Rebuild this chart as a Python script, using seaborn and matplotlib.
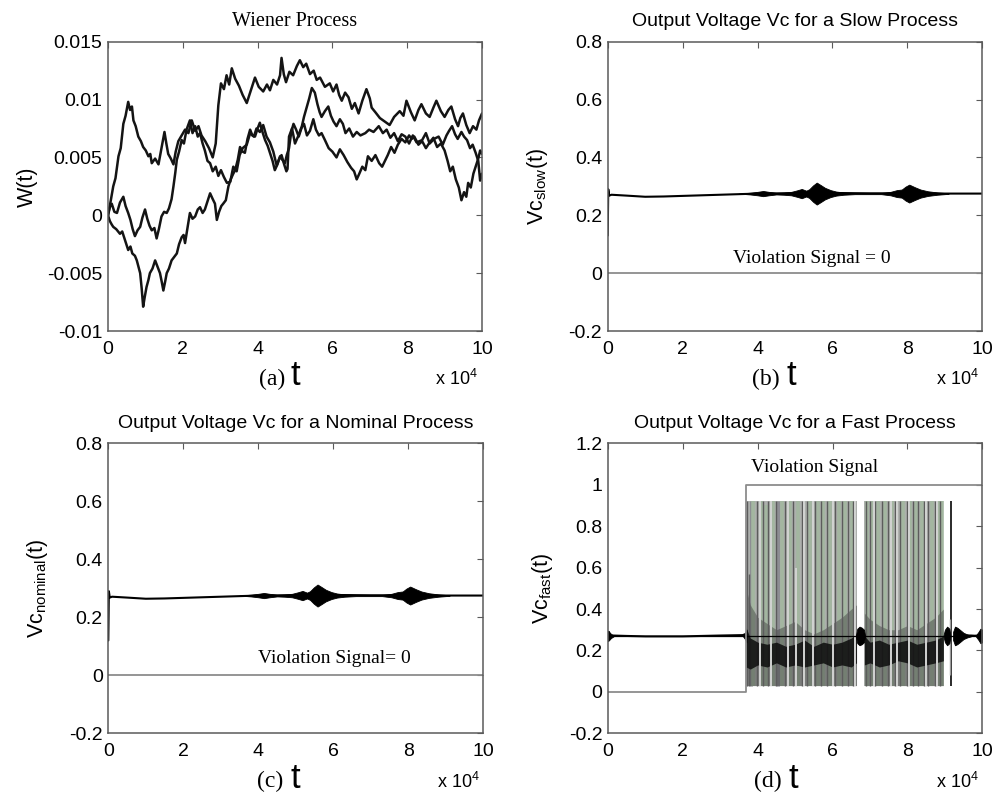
import matplotlib
matplotlib.use("Agg")
import matplotlib.pyplot as plt
import seaborn as sns

# ---------------------------------------------------------------- data
# (a) three sample paths of the Wiener process, t in units of 1e4
wiener1_t = [0, 0.07, 0.14, 0.2, 0.28, 0.34, 0.41, 0.47, 0.54, 0.59, 0.64, 0.68, 0.74, 0.81, 0.88, 0.94,
             1.01, 1.08, 1.13, 1.17, 1.26, 1.35, 1.43, 1.51, 1.56, 1.61, 1.68, 1.75, 1.81, 1.88, 1.97,
             2.06, 2.15, 2.24, 2.33, 2.42, 2.5, 2.6, 2.7, 2.8, 2.88, 2.95, 3.02, 3.1, 3.17, 3.24, 3.31,
             3.4, 3.5, 3.6, 3.71, 3.8, 3.93, 4.03, 4.15, 4.25, 4.33, 4.42, 4.52, 4.6, 4.64, 4.7, 4.76,
             4.85, 4.95, 5.05, 5.13, 5.22, 5.3, 5.4, 5.5, 5.58, 5.67, 5.8, 5.93, 6.02, 6.11, 6.18, 6.25,
             6.34, 6.43, 6.52, 6.6, 6.7, 6.8, 6.91, 7.0, 7.05, 7.15, 7.27, 7.4, 7.53, 7.65, 7.8, 7.9,
             7.98, 8.1, 8.2, 8.3, 8.38, 8.5, 8.6, 8.7, 8.78, 8.9, 9.0, 9.1, 9.18, 9.28, 9.36, 9.42,
             9.49, 9.58, 9.67, 9.76, 9.85, 9.92, 10.0]
wiener1_w = [0.0, 0.0012, 0.0025, 0.0032, 0.0051, 0.0058, 0.0079, 0.0086, 0.0098, 0.0091, 0.0094, 0.0082,
             0.0077, 0.0068, 0.0064, 0.0059, 0.0056, 0.0051, 0.0053, 0.0045, 0.0049, 0.0044, 0.0058,
             0.0072, 0.0062, 0.0053, 0.0049, 0.0044, 0.0055, 0.0064, 0.0069, 0.0074, 0.0071, 0.0082,
             0.0073, 0.0077, 0.0069, 0.0064, 0.0058, 0.005, 0.0062, 0.0095, 0.0114, 0.0109, 0.0121,
             0.0113, 0.0127, 0.0118, 0.0112, 0.0104, 0.0097, 0.0106, 0.0119, 0.0111, 0.0107, 0.0113,
             0.0108, 0.0117, 0.0113, 0.0121, 0.0136, 0.0122, 0.0115, 0.0124, 0.0121, 0.0129, 0.0134,
             0.0128, 0.0131, 0.0122, 0.0125, 0.0117, 0.0119, 0.0111, 0.0114, 0.0107, 0.0113, 0.0104,
             0.0099, 0.0106, 0.0102, 0.0092, 0.0097, 0.0088, 0.0099, 0.0109, 0.0101, 0.0093, 0.0089,
             0.0084, 0.0081, 0.0078, 0.0085, 0.009, 0.0086, 0.0099, 0.0089, 0.0082, 0.0091, 0.0096,
             0.0088, 0.0085, 0.0093, 0.0099, 0.009, 0.0085, 0.0091, 0.0094, 0.0083, 0.0077, 0.0084,
             0.0088, 0.0078, 0.0071, 0.0077, 0.0074, 0.0082, 0.0088]

wiener2_t = [0, 0.05, 0.1, 0.17, 0.24, 0.32, 0.41, 0.47, 0.54, 0.6, 0.66, 0.72, 0.79, 0.86, 0.92, 0.99,
             1.05, 1.11, 1.17, 1.24, 1.3, 1.36, 1.43, 1.5, 1.57, 1.63, 1.7, 1.75, 1.8, 1.84, 1.9, 1.97,
             2.03, 2.1, 2.19, 2.26, 2.33, 2.4, 2.46, 2.53, 2.59, 2.66, 2.73, 2.8, 2.88, 2.95, 3.02, 3.1,
             3.18, 3.27, 3.35, 3.44, 3.52, 3.6, 3.71, 3.8, 3.9, 3.97, 4.06, 4.15, 4.24, 4.33, 4.42,
             4.51, 4.58, 4.64, 4.71, 4.77, 4.8, 4.84, 4.92, 5.0, 5.08, 5.16, 5.24, 5.32, 5.4, 5.49,
             5.56, 5.64, 5.71, 5.8, 5.9, 6.0, 6.11, 6.2, 6.3, 6.4, 6.5, 6.58, 6.65, 6.72, 6.8, 6.88,
             6.95, 7.05, 7.15, 7.25, 7.33, 7.39, 7.48, 7.57, 7.66, 7.75, 7.85, 7.95, 8.05, 8.12, 8.19,
             8.3, 8.4, 8.5, 8.6, 8.7, 8.8, 8.9, 9.0, 9.08, 9.15, 9.22, 9.3, 9.38, 9.45, 9.52, 9.58,
             9.63, 9.7, 9.77, 9.83, 9.9, 9.95, 10.0]
wiener2_w = [0.0, 0.0007, 0.001, 0.0003, 0.0002, 0.0011, 0.0016, 0.0008, 0.0002, -0.0004, -0.0012,
             -0.0018, -0.0013, -0.001, -0.0002, 0.0005, -0.0003, -0.0009, -0.0013, -0.0011, -0.002,
             -0.0012, -0.0001, 0.0003, 0.0002, 0.0006, 0.0014, 0.0025, 0.0037, 0.0048, 0.0055, 0.0065,
             0.0062, 0.0074, 0.0082, 0.0071, 0.0077, 0.0068, 0.0071, 0.0062, 0.0056, 0.0047, 0.0045,
             0.0038, 0.0042, 0.0034, 0.0039, 0.0033, 0.0028, 0.0029, 0.0042, 0.0038, 0.0052, 0.0058,
             0.0061, 0.0071, 0.0068, 0.0075, 0.0072, 0.0078, 0.0068, 0.0063, 0.0055, 0.0043, 0.0049,
             0.0052, 0.0044, 0.0038, 0.004, 0.0068, 0.0075, 0.0062, 0.0068, 0.0075, 0.0079, 0.0069,
             0.0073, 0.0083, 0.0074, 0.0069, 0.0071, 0.0065, 0.0058, 0.0055, 0.005, 0.0057, 0.0052,
             0.0046, 0.0041, 0.0038, 0.0031, 0.0036, 0.0042, 0.0039, 0.0051, 0.0047, 0.0052, 0.0045,
             0.0042, 0.0046, 0.0052, 0.0059, 0.0054, 0.0061, 0.0066, 0.0063, 0.0069, 0.0066, 0.0068,
             0.0061, 0.0064, 0.0058, 0.0063, 0.0067, 0.0059, 0.0062, 0.0056, 0.0047, 0.0038, 0.0042,
             0.0031, 0.0024, 0.0013, 0.002, 0.0016, 0.0028, 0.0024, 0.0036, 0.0042, 0.0049, 0.0056,
             0.0053]

wiener3_t = [0, 0.05, 0.1, 0.14, 0.22, 0.32, 0.38, 0.45, 0.54, 0.6, 0.65, 0.72, 0.77, 0.82, 0.86, 0.9,
             0.94, 0.98, 1.03, 1.08, 1.12, 1.19, 1.26, 1.32, 1.39, 1.44, 1.48, 1.53, 1.57, 1.63, 1.7,
             1.77, 1.84, 1.9, 1.97, 2.02, 2.06, 2.12, 2.19, 2.26, 2.33, 2.4, 2.46, 2.53, 2.59, 2.66,
             2.73, 2.8, 2.86, 2.91, 2.97, 3.03, 3.08, 3.15, 3.22, 3.28, 3.35, 3.4, 3.47, 3.53, 3.6,
             3.66, 3.73, 3.8, 3.86, 3.93, 4.0, 4.06, 4.13, 4.2, 4.27, 4.33, 4.4, 4.46, 4.53, 4.6, 4.66,
             4.73, 4.78, 4.84, 4.9, 4.96, 5.03, 5.1, 5.17, 5.24, 5.31, 5.38, 5.45, 5.53, 5.6, 5.66,
             5.71, 5.8, 5.89, 5.96, 6.03, 6.11, 6.2, 6.28, 6.35, 6.45, 6.55, 6.65, 6.75, 6.88, 6.98,
             7.1, 7.24, 7.35, 7.45, 7.55, 7.65, 7.75, 7.85, 7.95, 8.05, 8.15, 8.25, 8.4, 8.5, 8.6,
             8.72, 8.84, 8.95, 9.05, 9.12, 9.2, 9.28, 9.35, 9.45, 9.52, 9.6, 9.68, 9.75, 9.83, 9.9,
             9.95, 10.0]
wiener3_w = [0.0, -0.0005, -0.0008, -0.001, -0.0012, -0.0016, -0.0014, -0.0021, -0.003, -0.0027,
             -0.0033, -0.0035, -0.0039, -0.0045, -0.005, -0.0063, -0.0079, -0.0071, -0.0062, -0.0056,
             -0.005, -0.0046, -0.0039, -0.0044, -0.005, -0.0058, -0.0065, -0.0057, -0.005, -0.0046,
             -0.0039, -0.0036, -0.0033, -0.0025, -0.0019, -0.0017, -0.0024, -0.0012, 0.0002, -0.0003,
             -0.0001, 0.0005, 0.0007, 0.0002, 0.0005, 0.0012, 0.0019, 0.0014, 0.001, -0.0004, 0.0003,
             0.0008, 0.001, 0.0013, 0.0025, 0.0031, 0.0036, 0.0039, 0.0048, 0.0059, 0.0055, 0.0054,
             0.0066, 0.0074, 0.0069, 0.0068, 0.0075, 0.008, 0.0072, 0.0065, 0.006, 0.0054, 0.0047,
             0.0039, 0.0044, 0.0051, 0.0048, 0.0045, 0.0052, 0.0058, 0.0072, 0.0079, 0.0074, 0.0068,
             0.0075, 0.0085, 0.0093, 0.0101, 0.011, 0.0106, 0.0096, 0.0089, 0.0085, 0.009, 0.0094,
             0.0086, 0.0081, 0.0077, 0.0083, 0.0079, 0.0071, 0.0075, 0.0068, 0.0072, 0.0069, 0.0071,
             0.0074, 0.0072, 0.0077, 0.0071, 0.0074, 0.0067, 0.0071, 0.0064, 0.007, 0.0068, 0.0062,
             0.0069, 0.0063, 0.0065, 0.0071, 0.0062, 0.0066, 0.0068, 0.0061, 0.0069, 0.0073, 0.0077,
             0.007, 0.0066, 0.0072, 0.0068, 0.0065, 0.0058, 0.0061, 0.0054, 0.0047, 0.003, 0.0036]

# (b), (c) output voltage: settled level and the oscillation bursts around it
vc_t = [0, 0.015, 0.04, 0.1, 0.5, 1.0, 1.5, 2.0, 3.0, 4.0, 5.0, 6.0, 7.0, 8.0, 9.0, 10.0]
vc_slow = [0.13, 0.29, 0.268, 0.271, 0.268, 0.264, 0.265, 0.267, 0.271, 0.275, 0.276, 0.277, 0.276,
           0.276, 0.275, 0.275]
vc_nominal = [0.12, 0.29, 0.268, 0.271, 0.268, 0.264, 0.265, 0.267, 0.271, 0.275, 0.276, 0.277, 0.276,
              0.276, 0.275, 0.275]
burst_t = [3.5, 3.8, 4.0, 4.15, 4.3, 4.5, 4.7, 4.9, 5.05, 5.18, 5.3, 5.38, 5.48, 5.58, 5.68, 5.8, 5.95,
           6.1, 6.3, 6.6, 7.3, 7.55, 7.72, 7.85, 7.95, 8.05, 8.2, 8.35, 8.55, 8.8, 9.1]
burst_half = [0.0, 0.003, 0.006, 0.009, 0.006, 0.003, 0.004, 0.006, 0.011, 0.016, 0.01, 0.015, 0.028,
              0.038, 0.03, 0.02, 0.012, 0.007, 0.004, 0.002, 0.002, 0.006, 0.012, 0.014, 0.024, 0.031,
              0.022, 0.014, 0.008, 0.004, 0.001]
burst_level = 0.275
violation_slow = [0, 0]
violation_nominal = [0, 0]

# (d) fast process
fast_t = [0, 0.02, 0.06, 0.12, 0.5, 1.0, 2.0, 3.0, 3.6, 3.69]
fast_vc = [0.25, 0.29, 0.262, 0.272, 0.27, 0.268, 0.268, 0.272, 0.274, 0.28]
fast_tail_t = [9.6, 9.7, 9.8, 9.9, 10.0]
fast_tail_vc = [0.272, 0.272, 0.271, 0.272, 0.272]
fast_level = 0.27
violation_t = [0, 3.70, 3.70, 10]
violation_fast = [0, 0, 1, 1]

osc_low, osc_high = 0.03, 0.92
band1_t = [3.69, 3.8, 4.0, 4.25, 4.5, 4.75, 5.0, 5.25, 5.5, 5.75, 6.0, 6.25, 6.5, 6.64]
band1_dark_top = [0.5, 0.42, 0.36, 0.33, 0.3, 0.32, 0.34, 0.3, 0.28, 0.3, 0.33, 0.36, 0.4, 0.42]
band1_core_lo = [0.12, 0.11, 0.13, 0.12, 0.14, 0.12, 0.13, 0.12, 0.13, 0.14, 0.12, 0.13, 0.12, 0.14]
band1_core_hi = [0.31, 0.26, 0.24, 0.23, 0.24, 0.22, 0.23, 0.25, 0.22, 0.24, 0.23, 0.24, 0.26, 0.28]
band2_t = [6.85, 7.0, 7.25, 7.5, 7.75, 8.0, 8.25, 8.5, 8.75, 8.96]
band2_dark_top = [0.38, 0.35, 0.32, 0.3, 0.3, 0.32, 0.3, 0.33, 0.36, 0.4]
band2_core_lo = [0.13, 0.14, 0.12, 0.13, 0.15, 0.14, 0.12, 0.13, 0.14, 0.15]
band2_core_hi = [0.27, 0.24, 0.25, 0.23, 0.24, 0.25, 0.23, 0.24, 0.25, 0.27]

stripe_x = [3.72, 3.76, 3.83, 3.88, 3.97, 4.05, 4.1, 4.15, 4.22, 4.28, 4.35, 4.42, 4.5, 4.55, 4.64,
            4.73, 4.8, 4.86, 4.95, 5.02, 5.08, 5.17, 5.24, 5.31, 5.4, 5.47, 5.53, 5.6, 5.69, 5.75,
            5.84, 5.93, 6.0, 6.07, 6.16, 6.24, 6.33, 6.42, 6.51, 6.55, 6.6,
            6.88, 6.93, 6.99, 7.04, 7.1, 7.13, 7.22, 7.31, 7.4, 7.49, 7.55, 7.58, 7.67, 7.73, 7.8,
            7.89, 7.98, 8.04, 8.07, 8.16, 8.22, 8.29, 8.38, 8.43, 8.5, 8.56, 8.65, 8.74, 8.8, 8.83,
            8.87, 8.93]
stripe_top = [0.92, 0.57, 0.92, 0.92, 0.92, 0.92, 0.92, 0.92, 0.9, 0.92, 0.92, 0.92, 0.92, 0.92, 0.92,
              0.92, 0.92, 0.92, 0.92, 0.6, 0.92, 0.92, 0.92, 0.92, 0.92, 0.92, 0.92, 0.92, 0.92, 0.92,
              0.92, 0.92, 0.92, 0.92, 0.92, 0.92, 0.92, 0.92, 0.92, 0.92, 0.92,
              0.92, 0.92, 0.92, 0.92, 0.92, 0.92, 0.92, 0.92, 0.92, 0.92, 0.92, 0.92, 0.92, 0.92, 0.92,
              0.92, 0.92, 0.92, 0.92, 0.92, 0.92, 0.92, 0.92, 0.92, 0.92, 0.92, 0.92, 0.92, 0.92, 0.92,
              0.92, 0.92]
stripe_tone = ["dark", "dark", "mid", "green", "dark", "light", "green", "dark", "green", "dark",
               "light", "green", "dark", "mid", "green", "dark", "light", "green", "dark", "light",
               "green", "dark", "light", "dark", "green", "light", "dark", "green", "dark", "green",
               "dark", "green", "light", "dark", "green", "dark", "green", "dark", "green", "dark",
               "light",
               "dark", "green", "dark", "green", "light", "dark", "green", "dark", "green", "dark",
               "light", "green", "dark", "light", "dark", "green", "dark", "light", "green", "dark",
               "green", "dark", "green", "dark", "light", "dark", "green", "dark", "light", "green",
               "dark", "green"]

fast_bursts = [
    ([0.0, 0.03, 0.08, 0.15], [0.025, 0.02, 0.01, 0.002]),
    ([3.6, 3.66, 3.7], [0.0, 0.015, 0.03]),
    ([6.62, 6.66, 6.72, 6.78, 6.84, 6.87], [0.0, 0.035, 0.045, 0.04, 0.03, 0.0]),
    ([8.96, 9.0, 9.06, 9.12, 9.15], [0.0, 0.03, 0.045, 0.035, 0.0]),
    ([9.22, 9.27, 9.33, 9.4, 9.5, 9.6, 9.7], [0.02, 0.045, 0.04, 0.03, 0.015, 0.007, 0.002]),
    ([9.82, 9.9, 9.95, 10.0], [0.0, 0.02, 0.035, 0.03]),
]
spike_t = 9.17

x_ticks = [0, 2, 4, 6, 8, 10]
w_ticks = [-0.01, -0.005, 0, 0.005, 0.01, 0.015]
w_tick_labels = ["-0.01", "-0.005", "0", "0.005", "0.01", "0.015"]
v_ticks = [-0.2, 0, 0.2, 0.4, 0.6, 0.8]
v_tick_labels = ["-0.2", "0", "0.2", "0.4", "0.6", "0.8"]
f_ticks = [-0.2, 0, 0.2, 0.4, 0.6, 0.8, 1.0, 1.2]
f_tick_labels = ["-0.2", "0", "0.2", "0.4", "0.6", "0.8", "1", "1.2"]

# ---------------------------------------------------------------- style
sns.set_theme(style="white")
plt.rcParams["font.family"] = ["Liberation Sans", "DejaVu Sans"]
plt.rcParams["mathtext.fontset"] = "custom"
plt.rcParams["mathtext.rm"] = "Liberation Sans"
plt.rcParams["mathtext.it"] = "Liberation Sans:italic"
plt.rcParams["mathtext.bf"] = "Liberation Sans:bold"
SERIF = ["Liberation Serif", "DejaVu Serif"]
NARROW = ["Liberation Sans Narrow", "Liberation Sans", "DejaVu Sans"]
SPINE = "#5a5a5a"
VIOLATION = "#8c8c8c"
TONES = {"dark": ("#5c5c5c", 1.0, 2.1), "mid": ("#8d8d93", 2.2, 1.5),
         "green": ("#a3b6a0", 2.6, 1.5), "light": ("#d2d3d2", 1.4, 2.3)}

fig = plt.figure(figsize=(10.07, 7.96), dpi=100)
fig.patch.set_facecolor("white")
ax_a = fig.add_axes([0.10725, 0.58417, 0.37140, 0.36344])
ax_b = fig.add_axes([0.60348, 0.58417, 0.37199, 0.36344])
ax_c = fig.add_axes([0.10755, 0.07877, 0.37239, 0.36432])
ax_d = fig.add_axes([0.60377, 0.07877, 0.37170, 0.36432])


def frame(ax, ylim, yticks, ylabels, ylabel, label_x, letter, letter_x, t_x, title, title_serif=False):
    ax.set_xlim(0, 10)
    ax.set_ylim(*ylim)
    ax.set_xticks(x_ticks)
    ax.set_xticklabels([str(v) for v in x_ticks])
    ax.set_yticks(yticks)
    ax.set_yticklabels(ylabels)
    ax.tick_params(axis="both", direction="in", top=True, right=True, length=4, width=0.8,
                   color=SPINE, labelcolor="black", labelsize=14)
    ax.tick_params(axis="x", pad=7)
    ax.tick_params(axis="y", pad=4)
    for s in ax.spines.values():
        s.set_visible(True)
        s.set_color(SPINE)
        s.set_linewidth(1.1)
        s.set_zorder(5)
    ax.set_facecolor("white")
    ax.grid(False)
    ax.set_xlabel("")
    ax.set_ylabel(ylabel, fontsize=15.5, color="black")
    ax.yaxis.set_label_coords(label_x, 0.5)
    if title_serif:
        ax.set_title(title, fontsize=14.5, pad=11, family=SERIF, color="black")
    else:
        ax.set_title(title, fontsize=14, pad=11, color="black")
    ax.text(letter_x, -0.187, letter, transform=ax.transAxes, ha="right", va="baseline",
            fontsize=17, family=SERIF, color="black")
    ax.text(t_x, -0.187, "t", transform=ax.transAxes, ha="left", va="baseline",
            fontsize=25, family=NARROW, color="black")
    ax.text(0.99, -0.187, r"x 10$^{4}$", transform=ax.transAxes, ha="right", va="baseline",
            fontsize=13, color="black")


def line(ax, x, y, color="black", lw=1.2, alpha=1.0, z=3):
    sns.lineplot(x=x, y=y, ax=ax, color=color, linewidth=lw, alpha=alpha, zorder=z,
                 estimator=None, sort=False, errorbar=None, legend=False)


# (a) Wiener process
for t, w in [(wiener1_t, wiener1_w), (wiener2_t, wiener2_w), (wiener3_t, wiener3_w)]:
    line(ax_a, t, w, color="#141414", lw=1.8)
frame(ax_a, (-0.01, 0.015), w_ticks, w_tick_labels, "W(t)", -0.187, "(a)", 0.473, 0.487,
      "Wiener Process", title_serif=True)

# (b), (c) slow and nominal processes
for ax, vc, viol, ylabel, lx, letter, lxp, tx, title, vx, vy, vtext in [
    (ax_b, vc_slow, violation_slow, r"Vc$_{\mathrm{slow}}$(t)", -0.155, "(b)", 0.46, 0.478,
     "Output Voltage Vc for a Slow Process", 3.35, 0.035, "Violation Signal = 0"),
    (ax_c, vc_nominal, violation_nominal, r"Vc$_{\mathrm{nominal}}$(t)", -0.156, "(c)", 0.467, 0.485,
     "Output Voltage Vc for a Nominal Process", 3.99, 0.041, "Violation Signal= 0"),
]:
    line(ax, [0, 10], viol, color=VIOLATION, lw=1.3)
    line(ax, vc_t, vc, color="black", lw=1.5)
    ax.fill_between(burst_t, [burst_level - h for h in burst_half],
                    [burst_level + h for h in burst_half], color="black", lw=0.6,
                    edgecolor="black", zorder=3)
    ax.text(vx, vy, vtext, family=SERIF, fontsize=14, color="black", va="baseline", ha="left")
    frame(ax, (-0.2, 0.8), v_ticks, v_tick_labels, ylabel, lx, letter, lxp, tx, title)

# (d) fast process: dense switching shown as stripes inside the oscillation bands
ax = ax_d
for bt in (band1_t, band2_t):
    ax.fill_between([bt[0], bt[-1]], osc_low, osc_high, color="#adb0ad", lw=0, zorder=1)
for bt, dt in ((band1_t, band1_dark_top), (band2_t, band2_dark_top)):
    ax.fill_between(bt, osc_low, dt, color="#2e2e2e", alpha=0.4, lw=0, zorder=2)
for bt, lo, hi in ((band1_t, band1_core_lo, band1_core_hi), (band2_t, band2_core_lo, band2_core_hi)):
    ax.fill_between(bt, lo, hi, color="#0d0d0d", alpha=0.85, lw=0, zorder=2.2)
for x, top, tone in zip(stripe_x, stripe_top, stripe_tone):
    c, w, z = TONES[tone]
    ax.vlines(x, osc_low, top, color=c, linewidth=w, zorder=z)
ax.vlines(spike_t, osc_low, osc_high, color="#2a2a2a", linewidth=1.4, zorder=2.5)
ax.vlines(spike_t - 0.04, 0.08, 0.35, color="#9a9a9a", linewidth=1.0, zorder=2.5)
line(ax, [0, 10], [fast_level, fast_level], color="black", lw=0.9)
line(ax, fast_t, fast_vc, color="black", lw=1.5)
line(ax, fast_tail_t, fast_tail_vc, color="black", lw=1.5)
for bt, bh in fast_bursts:
    ax.fill_between(bt, [fast_level - h for h in bh], [fast_level + h for h in bh],
                    color="black", lw=0.6, edgecolor="black", zorder=3)
line(ax, violation_t, violation_fast, color=VIOLATION, lw=1.3, z=3.5)
ax.text(3.81, 1.062, "Violation Signal", family=SERIF, fontsize=14, color="black",
        va="baseline", ha="left")
frame(ax, (-0.2, 1.2), f_ticks, f_tick_labels, r"Vc$_{\mathrm{fast}}$(t)", -0.142, "(d)", 0.464,
      0.482, "Output Voltage Vc for a Fast Process")

fig.savefig("out.png", dpi=100, facecolor="white")
